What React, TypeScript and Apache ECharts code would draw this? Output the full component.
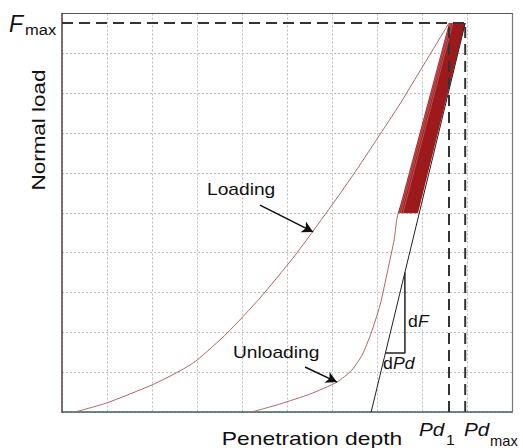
import React, { useEffect, useRef } from "react";
import * as echarts from "echarts";

// ---- data (arbitrary units, axes 0..10) ----
const loadingDepth = [0.29, 1.0, 2.0, 2.62, 3.0, 3.67, 4.4, 5.13, 5.58, 6.11, 6.56, 7.0, 7.51, 8.02, 8.6];
const loadingLoad = [0, 0.23, 0.68, 1.03, 1.3, 1.98, 2.86, 3.86, 4.54, 5.37, 6.1, 6.85, 7.73, 8.68, 9.76];

const unloadingDepth = [4.22, 4.84, 5.51, 6.11, 6.44, 6.67, 6.87, 7.07, 7.24, 7.38, 7.47, 8.96];
const unloadingLoad = [0, 0.2, 0.45, 0.75, 1.05, 1.43, 1.98, 2.69, 3.56, 4.32, 4.99, 9.76];

const fMax = 9.76;
const pd1 = 8.6;
const pdMax = 8.96;
const tangentStartDepth = 6.87;

// thick creep/cycling band corners: bottom-left, bottom-right, top-right, top-left
const bandDepth = [7.47, 7.91, 8.96, 8.6];
const bandLoad = [4.99, 4.99, 9.76, 9.76];

// slope triangle
const triDepth = [7.187, 7.62, 7.62];
const triLoad = [1.48, 1.48, 3.5];

// annotation arrows [fromDepth, fromLoad, toDepth, toLoad]
const loadingArrow = [4.4, 5.19, 5.58, 4.52];
const unloadingArrow = [5.4, 1.13, 6.11, 0.75];

const zip = (a: number[], b: number[]) => a.map((v, i) => [v, b[i]]);

const FONT = "'Liberation Sans', Arial, sans-serif";

export default function App() {
  const ref = useRef<HTMLDivElement>(null);
  useEffect(() => {
    document.body.style.margin = "0";
    if (!ref.current) return;
    const chart = echarts.init(ref.current, undefined, { renderer: "svg" });

    const dashStyle = { color: "#333", width: 2, type: [11, 6] as any };

    const band = zip(bandDepth, bandLoad);

    const txt = (text: string, x: number, y: number, o: any = {}) => ({
      type: "text",
      x,
      y,
      rotation: o.rotation || 0,
      scaleX: o.scaleX || 1,
      z: 100,
      style: {
        text,
        fontFamily: FONT,
        fontSize: o.fontSize || 18,
        fontStyle: o.italic ? "italic" : "normal",
        fill: "#111",
        align: o.align || "left",
        verticalAlign: "middle",
      },
    });

    const gridLine = { show: true, lineStyle: { color: "#bdbdbd", type: [2, 2] as any, width: 1 } };
    const hidden = { axisTick: { show: false }, axisLabel: { show: false } };

    chart.setOption({
      animation: false,
      grid: {
        left: 62,
        top: 13.5,
        right: 11,
        bottom: 36,
      },
      xAxis: [
        {
          type: "value",
          min: 0,
          max: 10,
          interval: 1,
          axisLine: { show: true, onZero: false, lineStyle: { color: "#3f5f5f", width: 1.5 } },
          ...hidden,
          splitLine: gridLine,
        },
        {
          type: "value",
          position: "top",
          min: 0,
          max: 10,
          interval: 1,
          axisLine: { show: true, onZero: false, lineStyle: { color: "#555", width: 1.2 } },
          ...hidden,
          splitLine: { show: false },
        },
      ],
      yAxis: [
        {
          type: "value",
          min: 0,
          max: 10,
          interval: 1,
          axisLine: { show: true, onZero: false, lineStyle: { color: "#5a4040", width: 1.5 } },
          ...hidden,
          splitLine: gridLine,
        },
        {
          type: "value",
          position: "right",
          min: 0,
          max: 10,
          interval: 1,
          axisLine: { show: true, onZero: false, lineStyle: { color: "#777", width: 1.2 } },
          ...hidden,
          splitLine: { show: false },
        },
      ],
      series: [
        {
          type: "line",
          name: "Loading",
          data: zip(loadingDepth, loadingLoad),
          smooth: 0.2,
          symbol: "none",
          lineStyle: { color: "#b06468", width: 1 },
          z: 3,
        },
        {
          type: "line",
          name: "Unloading",
          data: zip(unloadingDepth, unloadingLoad),
          smooth: 0.2,
          symbol: "none",
          lineStyle: { color: "#b06468", width: 1 },
          z: 3,
        },
        {
          type: "custom",
          name: "band",
          data: [band[0]],
          z: 4,
          renderItem: (params: any, api: any) => {
            const pts = band.map((p) => api.coord(p));
            const lerp = (a: number[], b: number[], t: number) => [a[0] + (b[0] - a[0]) * t, a[1] + (b[1] - a[1]) * t];
            const streaks = [0.06, 0.14, 0.24].map((t) => {
              const s = lerp(pts[0], pts[1], t);
              const e = lerp(pts[3], pts[2], t);
              return {
                type: "line",
                shape: { x1: s[0], y1: s[1], x2: e[0], y2: e[1] },
                style: { stroke: "rgba(235,170,170,0.55)", lineWidth: 0.7 },
              };
            });
            return {
              type: "group",
              children: [
                { type: "polygon", shape: { points: pts }, style: { fill: "#9d1a1c" } },
                ...streaks,
              ],
            };
          },
        },
        {
          type: "line",
          name: "tangent",
          data: [
            [tangentStartDepth, 0],
            [pdMax, fMax],
          ],
          symbol: "none",
          lineStyle: { color: "#222", width: 1 },
          z: 5,
        },
        {
          type: "line",
          name: "triangle",
          data: zip(triDepth, triLoad),
          symbol: "none",
          lineStyle: { color: "#222", width: 1.5 },
          z: 5,
        },
        {
          type: "line",
          name: "Fmax",
          data: [
            [0, fMax],
            [pdMax, fMax],
          ],
          symbol: "none",
          lineStyle: dashStyle,
          z: 6,
        },
        {
          type: "line",
          name: "Pd1",
          data: [
            [pd1, 0],
            [pd1, fMax],
          ],
          symbol: "none",
          lineStyle: dashStyle,
          z: 6,
        },
        {
          type: "line",
          name: "Pdmax",
          data: [
            [pdMax, 0],
            [pdMax, fMax],
          ],
          symbol: "none",
          lineStyle: dashStyle,
          z: 6,
        },
        {
          type: "line",
          name: "arrows",
          data: [],
          markLine: {
            silent: true,
            symbol: ["none", "arrow"],
            symbolSize: [9, 11],
            label: { show: false },
            lineStyle: { color: "#111", width: 1.5, type: "solid" },
            data: [
              [{ coord: [loadingArrow[0], loadingArrow[1]] }, { coord: [loadingArrow[2], loadingArrow[3]] }],
              [{ coord: [unloadingArrow[0], unloadingArrow[1]] }, { coord: [unloadingArrow[2], unloadingArrow[3]] }],
            ],
          },
        },
      ],
      graphic: [
        txt("Normal load", 38.5, 130, { rotation: Math.PI / 2, scaleX: 1.25, align: "center", fontSize: 18 }),
        txt("Penetration depth", 312, 438, { scaleX: 1.27, align: "center", fontSize: 18 }),
        txt("F", 9, 24, { italic: true, fontSize: 23 }),
        txt("max", 25, 30, { fontSize: 15, scaleX: 1.1 }),
        txt("Loading", 207, 190, { fontSize: 16, scaleX: 1.2 }),
        txt("Unloading", 233, 353, { fontSize: 16, scaleX: 1.2 }),
        txt("d", 408, 322, { fontSize: 16, scaleX: 1.1 }),
        txt("F", 418, 322, { fontSize: 16, italic: true, scaleX: 1.1 }),
        txt("d", 383, 364, { fontSize: 16, scaleX: 1.1 }),
        txt("Pd", 393, 364, { fontSize: 16, italic: true, scaleX: 1.1 }),
        txt("Pd", 419, 430, { fontSize: 18, italic: true, scaleX: 1.15 }),
        txt("1", 446, 440, { fontSize: 15, scaleX: 1.05 }),
        txt("Pd", 464, 430, { fontSize: 18, italic: true, scaleX: 1.15 }),
        txt("max", 490, 441, { fontSize: 14, scaleX: 1.05 }),
      ],
    });
    return () => chart.dispose();
  }, []);
  return <div ref={ref} style={{ width: 523, height: 448 }} />;
}
